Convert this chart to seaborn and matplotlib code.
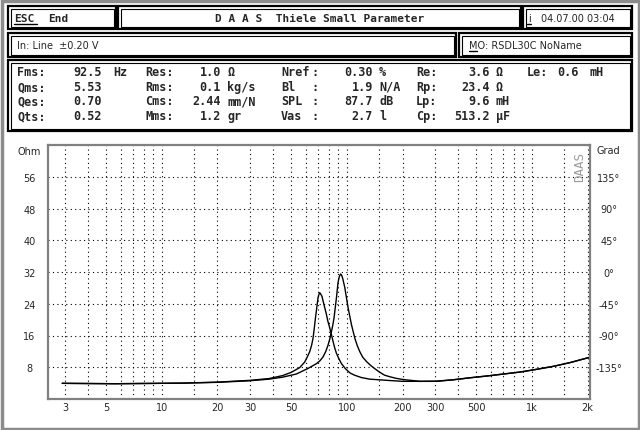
import numpy as np
import pandas as pd
import matplotlib
matplotlib.use("Agg")
import matplotlib.pyplot as plt
import seaborn as sns
from matplotlib.patches import Rectangle
from matplotlib.lines import Line2D
from matplotlib.ticker import FixedLocator, NullFormatter

# === dados ===
# curva com massa adicionada (ressonância ~71 Hz)
freq_a = [2.9, 5.6, 13, 20, 30, 38, 45, 50, 55.6, 59.2, 61, 63, 64.5, 65.7, 66.7, 67.7, 68.8,
          69.9, 70.6, 71.4, 72.8, 73.5, 74.4, 76, 77.6, 79, 80.9, 82.6, 84.3, 86, 87.9, 90.5,
          93.6, 98, 103.8, 110, 120, 133, 165, 200, 249, 306, 377,
          464, 572, 704, 866, 1067, 1313, 1617, 2050]
ohm_a = [3.95, 3.85, 4.0, 4.25, 4.7, 5.15, 5.9, 6.7, 7.9, 9.3, 10.5, 11.9, 13.5, 15.3, 17.8, 20.4, 23.0,
         25.5, 26.3, 26.8, 26.2, 25.8, 24.7, 23.0, 21.3, 19.6, 17.9, 16.2, 14.5, 12.9, 11.5, 10.2,
         8.9, 7.7, 6.6, 6.0, 5.4, 5.0, 4.7, 4.45, 4.45, 4.5, 4.85,
         5.35, 5.8, 6.3, 6.8, 7.5, 8.25, 9.2, 10.5]
# curva ao ar livre (Fms = 92.5 Hz)
freq_b = [2.9, 5.6, 13, 20, 30, 38, 45, 53.4, 61.7, 68.5, 71.5, 74.4, 77, 79.2, 81, 82.6, 84,
          85.3, 86.6, 87.9, 88.8, 89.7, 91, 92.5, 93.8, 95, 97.5, 101.6, 106, 110.5, 114,
          117.6, 122, 128, 135, 142, 151, 160, 171, 185, 202, 249, 306, 377,
          464, 572, 704, 866, 1067, 1313, 1617, 2050]
ohm_b = [3.95, 3.85, 4.0, 4.2, 4.6, 5.0, 5.5, 6.3, 7.7, 8.9, 9.6, 10.6, 12.0, 13.6, 15.2, 17.0, 18.6,
         20.4, 23.0, 25.5, 27.5, 29.4, 30.8, 31.5, 31.2, 30.4, 28.1, 23.0, 18.7, 15.3, 13.4,
         11.9, 10.5, 9.4, 8.4, 7.6, 6.7, 6.0, 5.6, 5.2, 4.9, 4.45, 4.45, 4.85,
         5.35, 5.8, 6.3, 6.8, 7.5, 8.25, 9.2, 10.5]

x_major = [3, 5, 10, 20, 30, 50, 100, 200, 300, 500, 1000, 2000]
x_labels = ["3", "5", "10", "20", "30", "50", "100", "200", "300", "500", "1k", "2k"]
x_minor = [4, 6, 7, 8, 9, 15, 40, 60, 70, 80, 90, 150, 400, 600, 700, 800, 900, 1500]
ohm_ticks = [8, 16, 24, 32, 40, 48, 56]
grad_ticks = [-135, -90, -45, 0, 45, 90, 135]

# parâmetros TS (texto do cabeçalho)
col1_lab = ["Fms:", "Qms:", "Qes:", "Qts:"]
col1_val = ["92.5", "5.53", "0.70", "0.52"]
col2_lab = ["Res:", "Rms:", "Cms:", "Mms:"]
col2_val = ["1.0", "0.1", "2.44", "1.2"]
col2_unit = ["Ω", "kg/s", "mm/N", "gr"]
col3_lab = ["Nref", "Bl", "SPL", "Vas"]
col3_val = ["0.30", "1.9", "87.7", "2.7"]
col3_unit = ["%", "N/A", "dB", "l"]
col4_lab = ["Re:", "Rp:", "Lp:", "Cp:"]
col4_val = ["3.6", "23.4", "9.6", "513.2"]
col4_unit = ["Ω", "Ω", "mH", "μF"]

# === figura ===
sns.set_style("white")
plt.rcParams['font.family'] = ['DejaVu Sans']

W, H = 640, 431
fig = plt.figure(figsize=(6.4, 4.31), dpi=100)
fig.patch.set_facecolor("white")

def fx(x):
    return x / W

def fy(y):
    return 1 - y / H

def box(x0, y0, x1, y1, lw=1.6, color="black", inner=True):
    fig.add_artist(Rectangle((fx(x0), fy(y1)), fx(x1) - fx(x0), fy(y0) - fy(y1),
                             fill=False, lw=lw, ec=color, transform=fig.transFigure))
    if inner:
        d = 2.5
        fig.add_artist(Rectangle((fx(x0 + d), fy(y1 - d)), fx(x1 - x0 - 2 * d), (y1 - y0 - 2 * d) / H,
                                 fill=False, lw=0.8, ec=color, transform=fig.transFigure))

def txt(x, y, s, size=8, bold=True, mono=True, ha="left", **kw):
    fam = ["DejaVu Sans Mono"] if mono else ["DejaVu Sans"]
    fig.text(fx(x), fy(y), s, fontsize=size, fontweight="bold" if bold else "normal",
             family=fam, ha=ha, va="center", **kw)

def underline(x0, x1, y):
    fig.add_artist(Line2D([fx(x0), fx(x1)], [fy(y), fy(y)], lw=1, color="black",
                          transform=fig.transFigure))

# moldura externa pontilhada
box(1.5, 1.5, 638.5, 429.5, lw=2.5, color="0.55", inner=False)

# caixas do cabeçalho
box(8, 7, 116, 30)
box(118, 7, 521, 30)
box(523, 7, 632, 30)
box(8, 34, 456, 58)
box(459, 34, 632, 58)
box(8, 61, 632, 132)

txt(14, 18.5, "ESC")
underline(14, 37, 25)
txt(48, 18.5, "End")
txt(320, 19, "D A A S  Thiele Small Parameter", ha="center")
txt(528, 18.5, "i", size=7, bold=False, mono=False)
underline(527, 531, 25)
txt(541, 18.5, "04.07.00 03:04", size=7, bold=False, mono=False)
txt(17, 46, "In: Line  ±0.20 V", size=7, bold=False, mono=False)
txt(469, 46, "MO: RSDL30C NoName", size=7, bold=False, mono=False)
underline(469, 477, 52)

ps = 8.5
rows_y = [73, 87.5, 102, 116.5]
for i, y in enumerate(rows_y):
    txt(17, y, col1_lab[i], size=ps)
    txt(73, y, col1_val[i], size=ps)
    txt(145, y, col2_lab[i], size=ps)
    txt(221, y, col2_val[i], size=ps, ha="right")
    txt(227, y, col2_unit[i], size=ps)
    txt(281, y, col3_lab[i], size=ps)
    txt(311, y, ":", size=ps)
    txt(373, y, col3_val[i], size=ps, ha="right")
    txt(379, y, col3_unit[i], size=ps)
    txt(416, y, col4_lab[i], size=ps)
    txt(490, y, col4_val[i], size=ps, ha="right")
    txt(496, y, col4_unit[i], size=ps)
txt(113, rows_y[0], "Hz", size=ps)
txt(527, rows_y[0], "Le:", size=ps)
txt(557, rows_y[0], "0.6", size=ps)
txt(590, rows_y[0], "mH", size=ps)

# === gráfico de impedância ===
ax = fig.add_axes([fx(48), fy(400), fx(590) - fx(48), (400 - 146) / H])
ax.set_xscale("log")

df_a = pd.DataFrame({"freq": freq_a, "ohm": ohm_a})
df_b = pd.DataFrame({"freq": freq_b, "ohm": ohm_b})
sns.lineplot(data=df_a, x="freq", y="ohm", ax=ax, color="black", lw=1.0, estimator=None)
sns.lineplot(data=df_b, x="freq", y="ohm", ax=ax, color="black", lw=1.0, estimator=None)

ax.set_xlim(2.43, 2060)
ax.set_ylim(0, 64)
ax.set_xlabel("")
ax.set_ylabel("")
ax.xaxis.set_major_locator(FixedLocator(x_major))
ax.set_xticklabels(x_labels)
ax.xaxis.set_minor_locator(FixedLocator(x_minor))
ax.xaxis.set_minor_formatter(NullFormatter())
ax.set_yticks(ohm_ticks)
ax.set_yticklabels([str(v) for v in ohm_ticks])
ax.grid(which="both", axis="x", color="black", lw=0.8, ls=(0, (1, 3)))
ax.grid(which="major", axis="y", color="black", lw=0.8, ls=(0, (1, 3)))
ax.tick_params(which="both", length=0)
ax.tick_params(axis="y", pad=13.3, labelsize=7)
ax.tick_params(axis="x", pad=6.0, labelsize=7)
for lab in ax.get_yticklabels():
    lab.set_horizontalalignment("center")
for lab in ax.get_xticklabels():
    lab.set_verticalalignment("center")
for sp in ax.spines.values():
    sp.set_color("0.5")
    sp.set_linewidth(1.6)

ax2 = ax.twinx()
ax2.set_ylim(-180, 180)
ax2.set_yticks(grad_ticks)
ax2.set_yticklabels([f"{v}°" for v in grad_ticks])
ax2.tick_params(length=0, pad=13.7, labelsize=7)
for lab in ax2.get_yticklabels():
    lab.set_horizontalalignment("center")
for sp in ax2.spines.values():
    sp.set_visible(False)

txt(29.5, 152, "Ohm", size=7, bold=False, mono=False, ha="center")
txt(608, 151, "Grad", size=7, bold=False, mono=False, ha="center")
txt(580, 167, "DAAS", size=9, bold=False, mono=True, ha="center", rotation=90, color="0.6")

fig.savefig("out.png", dpi=100)
